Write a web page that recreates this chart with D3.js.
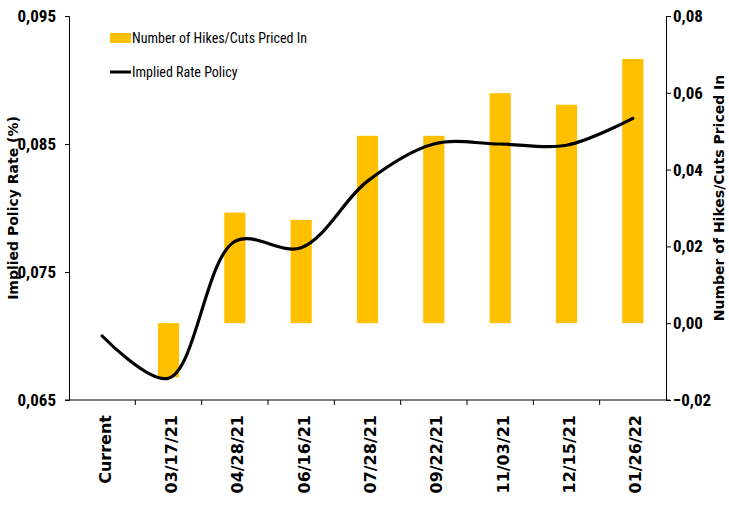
<!DOCTYPE html>
<html>
<head>
<meta charset="utf-8">
<script src="https://cdn.jsdelivr.net/npm/d3@7"></script>
<style>
  body { margin: 0; background: #fff; }
  svg { display: block; }
  .tick text { font-family: 'Liberation Sans Narrow', 'Roboto Condensed', sans-serif; font-weight: bold; font-size: 17px; fill: #000; }
  .xaxis .tick text { font-family: 'DejaVu Sans', Verdana, sans-serif; font-size: 16px; }
  .title { font-family: 'DejaVu Sans', sans-serif; font-weight: bold; font-size: 14px; }
  .legend { font-family: 'Liberation Sans Narrow', 'Roboto Condensed', sans-serif; font-size: 14px; }
</style>
</head>
<body>
<svg width="729" height="506"></svg>
<script>
// chart data
var categories = ["Current", "03/17/21", "04/28/21", "06/16/21", "07/28/21", "09/22/21", "11/03/21", "12/15/21", "01/26/22"];
var hikesPriced = [0, -0.0141, 0.0288, 0.0269, 0.0488, 0.0488, 0.0599, 0.0569, 0.0688];
var impliedRate = [0.0700, 0.0667, 0.0774, 0.0769, 0.0821, 0.0850, 0.0850, 0.0849, 0.0870];
var leftTicks = [0.065, 0.075, 0.085, 0.095];
var rightTicks = [-0.02, 0, 0.02, 0.04, 0.06, 0.08];

var svg = d3.select("svg");
// plot area edges (window.top is reserved, so use other names)
var plotL = 69, plotR = 666, plotT = 16, plotB = 400;

var x = d3.scaleBand()
    .domain(categories)
    .range([plotL, plotR])
    .padding(0);

var yLeft = d3.scaleLinear().domain([0.065, 0.095]).range([plotB, plotT]);
var yRight = d3.scaleLinear().domain([-0.02, 0.08]).range([plotB, plotT]);

var comma = function(d, dec) { return d3.format("." + dec + "f")(d).replace(".", ","); };

// bars (right axis)
var barW = x.bandwidth() * 0.32;
svg.append("g").selectAll("rect")
    .data(categories)
    .enter().append("rect")
    .attr("x", function(d) { return x(d) + x.bandwidth() / 2 - barW / 2; })
    .attr("y", function(d, i) { return yRight(Math.max(0, hikesPriced[i])); })
    .attr("width", barW)
    .attr("height", function(d, i) { return Math.abs(yRight(hikesPriced[i]) - yRight(0)); })
    .attr("fill", "#FFC000");

// smoothed line (left axis)
var line = d3.line()
    .x(function(d, i) { return x(categories[i]) + x.bandwidth() / 2; })
    .y(function(d) { return yLeft(d); })
    .curve(d3.curveCatmullRom.alpha(0.5));

svg.append("path")
    .datum(impliedRate)
    .attr("d", line)
    .attr("fill", "none")
    .attr("stroke", "#000")
    .attr("stroke-width", 3.2)
    .attr("stroke-linecap", "round");

// axes
var gl = svg.append("g")
    .attr("transform", "translate(" + plotL + ",0)")
    .call(d3.axisLeft(yLeft).tickValues(leftTicks).tickSize(4).tickPadding(9)
        .tickFormat(function(d) { return comma(d, 3); }));

var gr = svg.append("g")
    .attr("transform", "translate(" + plotR + ",0)")
    .call(d3.axisRight(yRight).tickValues(rightTicks).tickSize(5).tickPadding(2)
        .tickFormat(function(d) { return comma(d, 2); }));

var gx = svg.append("g")
    .attr("class", "xaxis")
    .attr("transform", "translate(0," + plotB + ")")
    .call(d3.axisBottom(x).tickSize(0).tickPadding(0));

gx.select(".domain").attr("d", "M" + (plotL - 4) + ",0H" + (plotR + 4));

// tick marks between categories
gx.selectAll(".sep")
    .data(categories.slice(1))
    .enter().append("line")
    .attr("class", "sep")
    .attr("x1", function(d) { return x(d); })
    .attr("x2", function(d) { return x(d); })
    .attr("y1", 0).attr("y2", 5)
    .attr("stroke", "#000");

gx.selectAll(".tick text")
    .attr("transform", "rotate(-90)")
    .attr("text-anchor", "end")
    .attr("x", -15)
    .attr("y", 3)
    .attr("dy", "0.35em")
    .attr("font-weight", "bold");

[gl, gr, gx].forEach(function(g) {
    g.selectAll(".domain, .tick line").attr("stroke", "#000");
    g.selectAll(".tick text").attr("fill", "#000");
});

// axis titles
svg.append("text")
    .attr("class", "title")
    .attr("transform", "translate(18,208) rotate(-90)")
    .attr("text-anchor", "middle")
    .text("Implied Policy Rate (%)");

svg.append("text")
    .attr("class", "title")
    .attr("transform", "translate(724,198) rotate(-90)")
    .attr("text-anchor", "middle")
    .text("Number of Hikes/Cuts Priced In");

// legend
var lg = svg.append("g").attr("class", "legend");
lg.append("rect").attr("x", 110).attr("y", 33).attr("width", 21).attr("height", 10).attr("fill", "#FFC000");
lg.append("text").attr("x", 132).attr("y", 43).text("Number of Hikes/Cuts Priced In");
lg.append("line").attr("x1", 110).attr("x2", 131).attr("y1", 72).attr("y2", 72)
    .attr("stroke", "#000").attr("stroke-width", 3);
lg.append("text").attr("x", 132).attr("y", 77).text("Implied Rate Policy");
</script>
</body>
</html>
